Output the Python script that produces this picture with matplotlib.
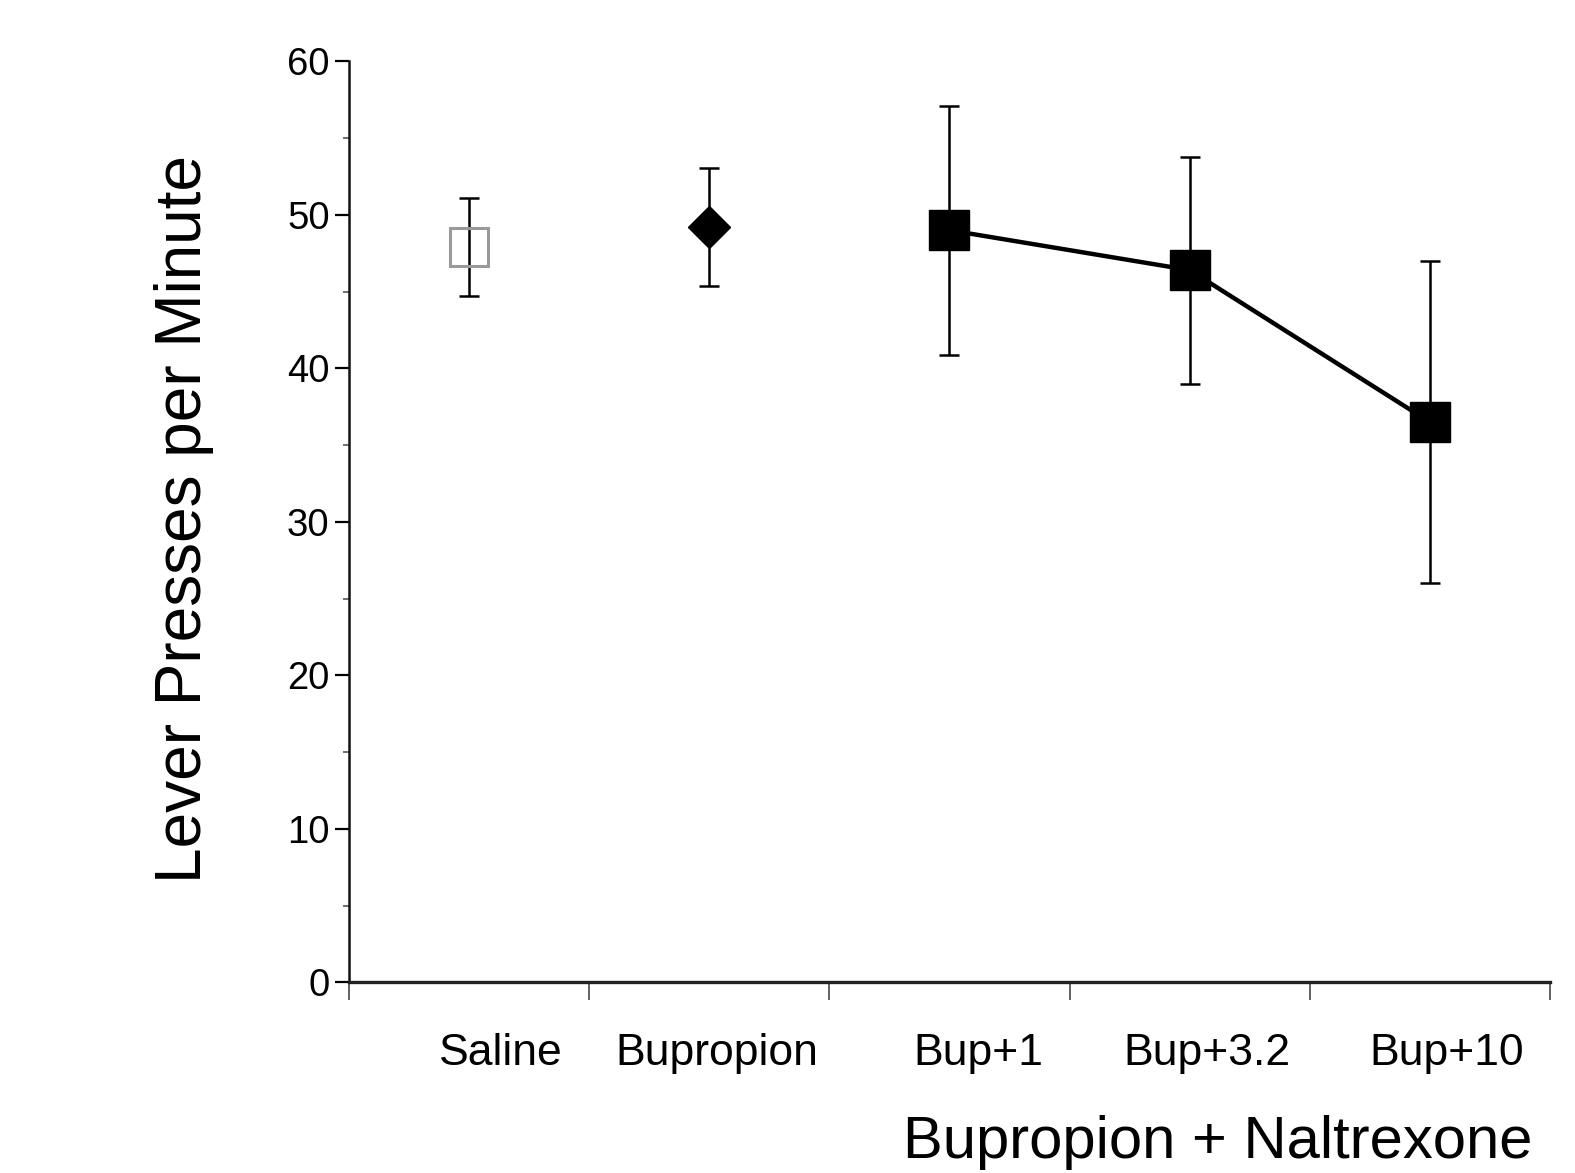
import numpy as np
import matplotlib
matplotlib.use("Agg")
import matplotlib.pyplot as plt
import matplotlib.transforms as mtransforms

plt.rcParams['font.family'] = ['Liberation Sans', 'DejaVu Sans']

# ---- data ----
categories = ['Saline', 'Bupropion', 'Bup+1', 'Bup+3.2', 'Bup+10']
means = [47.9, 49.2, 49.0, 46.4, 36.5]
errors = [3.2, 3.85, 8.1, 7.4, 10.5]
yticks = [0, 10, 20, 30, 40, 50, 60]
ylabel = 'Lever Presses per Minute'
xlabel = 'Bupropion + Naltrexone'

# label offsets (position only)
label_offsets = [0.13, 0.03, 0.12, 0.07, 0.07]

fig = plt.figure(figsize=(15.75, 11.73), dpi=100)
ax = fig.add_axes([0.2216, 0.1625, 0.9841 - 0.2216, 0.9477 - 0.1625])

x = np.arange(len(categories))

ax.errorbar(x, means, yerr=errors, fmt='none', ecolor='black',
            elinewidth=1.8, capsize=7.5, capthick=1.8, zorder=2)

# Saline: hollow gray square
ax.plot(x[0], means[0], linestyle='none', marker='s', ms=28,
        mfc='none', mec='#9a9a9a', mew=2.2, zorder=3)
# Bupropion: black diamond
ax.plot(x[1], means[1], linestyle='none', marker='D', ms=21.5,
        mfc='black', mec='black', mew=1, zorder=3)
# Bup + naltrexone: connected black squares
ax.plot(x[2:], means[2:], '-', color='black', lw=3.2, marker='s', ms=29,
        mfc='black', mec='black', mew=1, zorder=3)

ax.set_xlim(-0.5, len(categories) - 0.5)
ax.set_ylim(0, 60)

ax.set_xticks(np.arange(-0.5, len(categories), 1.0))
ax.set_xticklabels([])
ax.set_yticks(yticks)
ax.set_yticks(np.arange(5, 60, 10), minor=True)
ax.set_yticklabels([str(t) for t in yticks], fontsize=27.5)

ax.tick_params(axis='y', which='major', length=10, width=1.6, pad=4, direction='out', colors='black')
ax.tick_params(axis='y', which='minor', length=4, width=1.2, direction='out', color='#555555')
ax.tick_params(axis='x', which='major', length=13, width=1.3, direction='out', color='#555555')

for s in ['top', 'right']:
    ax.spines[s].set_visible(False)
ax.spines['left'].set_linewidth(1.8)
ax.spines['bottom'].set_linewidth(2.4)
ax.spines['left'].set_color('#111111')
ax.spines['bottom'].set_color('#222222')

trans = mtransforms.blended_transform_factory(ax.transData, ax.transAxes)
for i, (lab, off) in enumerate(zip(categories, label_offsets)):
    ax.text(i + off, -0.0897, lab, transform=trans, ha='center', va='baseline',
            fontsize=32, color='black')

fig.text(184 / 1575, 1 - 519 / 1173, ylabel, rotation=90, ha='center', va='center',
         fontsize=46, color='black')
fig.text(1218 / 1575, 1 - 1158 / 1173, xlabel, ha='center', va='baseline',
         fontsize=43, color='black')

fig.savefig('out.png', dpi=100, facecolor='white')
